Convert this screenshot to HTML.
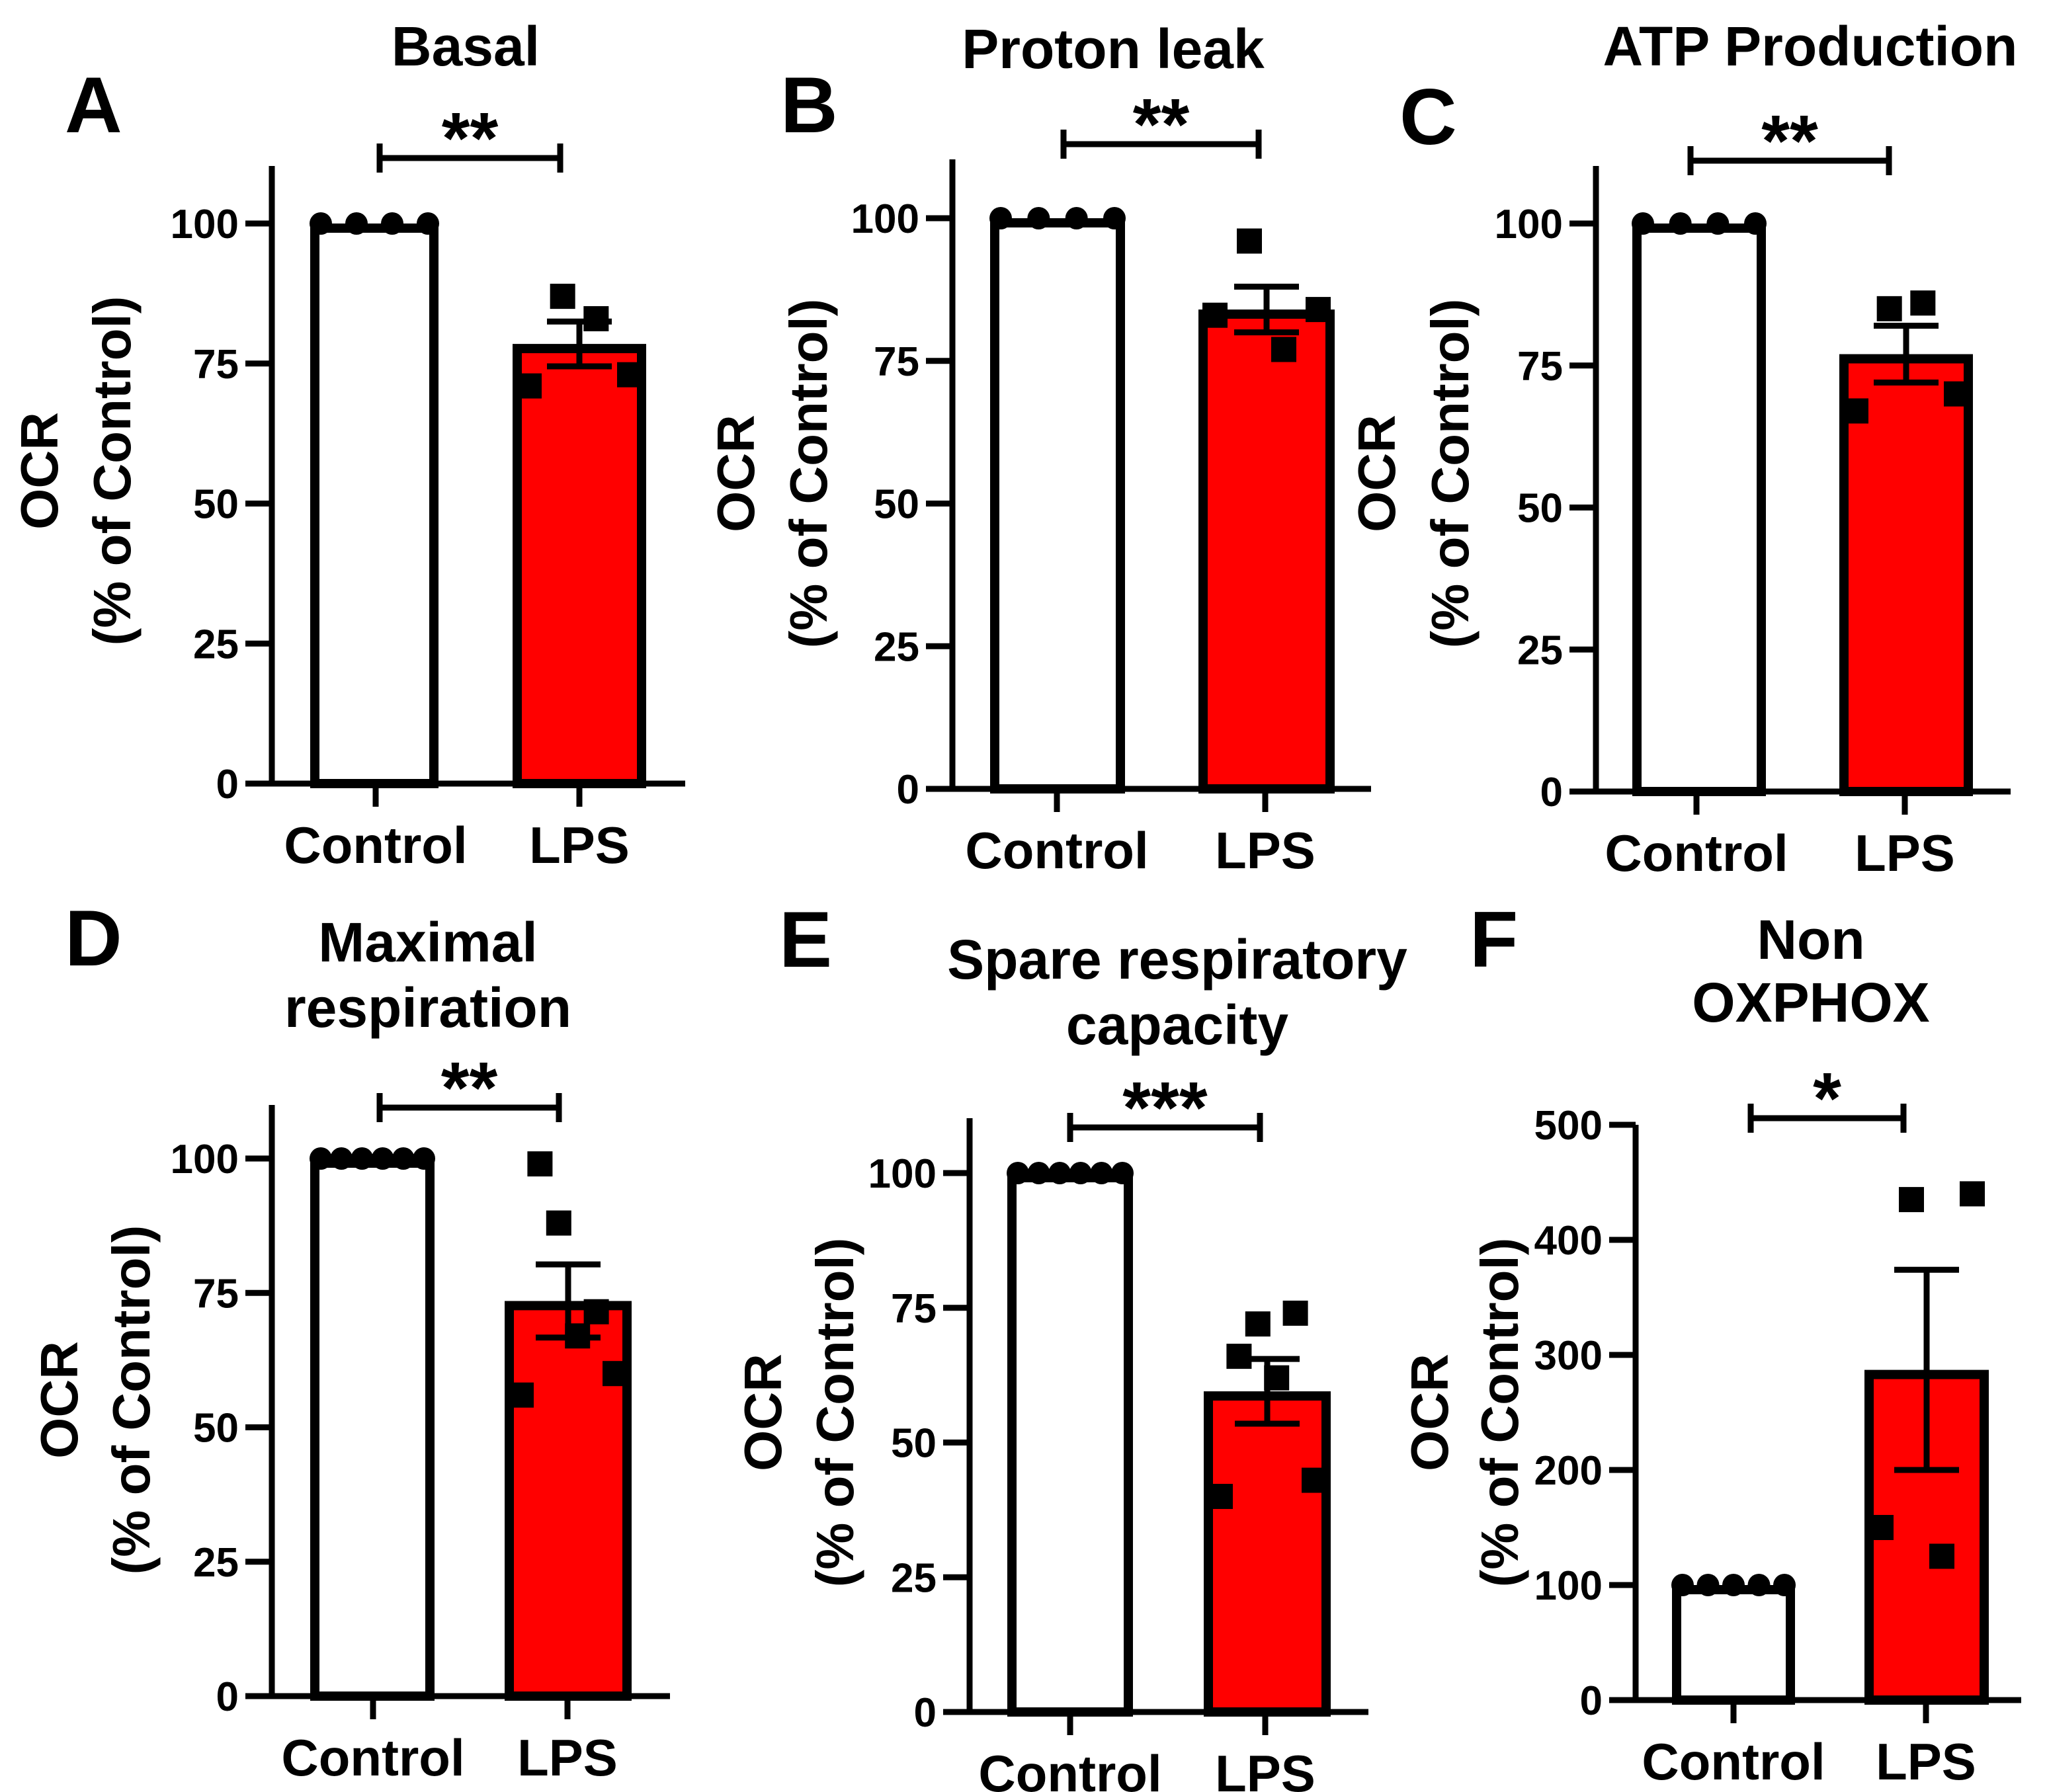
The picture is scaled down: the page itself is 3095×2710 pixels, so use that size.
<!DOCTYPE html>
<html><head><meta charset="utf-8"><style>
html,body{margin:0;padding:0;background:#fff;}
svg{display:block;font-family:"Liberation Sans",Arial,sans-serif;font-weight:bold;}
</style></head><body>
<svg id="fig" width="3095" height="2710" viewBox="0 0 3095 2710" xmlns="http://www.w3.org/2000/svg"></svg>
<script>
// ---- data ----
const categories = ["Control","LPS"];
const titlesA = ["Basal"], titlesB = ["Proton leak"], titlesC = ["ATP Production"];
const titlesD = ["Maximal","respiration"], titlesE = ["Spare respiratory","capacity"], titlesF = ["Non","OXPHOX"];
const ticks100 = [0,25,50,75,100];
const ticks500 = [0,100,200,300,400,500];
const ctrlA=[100,100,100,100], lpsA=[71,87,83,73], meanA=[100,78.5], semA=[0,4];
const ctrlB=[100,100,100,100], lpsB=[83,96,77,84], meanB=[100,84], semB=[0,4];
const ctrlC=[100,100,100,100], lpsC=[67,85,86,70], meanC=[100,77], semC=[0,5];
const ctrlD=[100,100,100,100,100,100], lpsD=[56,99,88,67,71.5,60], meanD=[100,73.5], semD=[0,6.8];
const ctrlE=[100,100,100,100,100,100], lpsE=[40,66,72,62,74,43], meanE=[100,59.5], semE=[0,6];
const ctrlF=[100,100,100,100,100], lpsF=[150,435,125,440], meanF=[100,287], semF=[0,87];
const starsList = ["**","**","**","**","***","*"];

const NS="http://www.w3.org/2000/svg";
const svg=document.getElementById('fig');
function mk(tag,attrs,parent){const e=document.createElementNS(NS,tag);for(const k in attrs)e.setAttribute(k,attrs[k]);(parent||svg).appendChild(e);return e;}

const panels=[
 {L:"A",lx:98,ly:200,titles:titlesA,tx:704,ty:[69],ax:411,y0:1185,yTop:338,vTop:100,axTop:251,xEnd:1036,b:[[469,663],[775,977]],tk:[568,876],br:[239,574,847],ctrl:ctrlA,lps:lpsA,mean:meanA,sem:semA,ticks:ticks100,lab:[-352,-242],lc:712},
 {L:"B",lx:1180,ly:200,titles:titlesB,tx:1683,ty:[73],ax:1440,y0:1193,yTop:330,vTop:100,axTop:241,xEnd:2073,b:[[1497,1701],[1812,2018]],tk:[1598,1913],br:[218,1608,1903],ctrl:ctrlB,lps:lpsB,mean:meanB,sem:semB,ticks:ticks100,lab:[-328,-218],lc:716},
 {L:"C",lx:2116,ly:218,titles:titlesC,tx:2737,ty:[69],ax:2413,y0:1197,yTop:338,vTop:100,axTop:251,xEnd:3040,b:[[2468,2670],[2781,2983]],tk:[2565,2880],br:[243,2556,2856],ctrl:ctrlC,lps:lpsC,mean:meanC,sem:semC,ticks:ticks100,lab:[-332,-221],lc:716},
 {L:"D",lx:98,ly:1460,titles:titlesD,tx:647,ty:[1424,1523],ax:411,y0:2565,yTop:1752,vTop:100,axTop:1671,xEnd:1013,b:[[469,657],[763,955]],tk:[564,858],br:[1675,574,845],ctrl:ctrlD,lps:lpsD,mean:meanD,sem:semD,ticks:ticks100,lab:[-322,-213],lc:2117},
 {L:"E",lx:1178,ly:1462,titles:titlesE,tx:1780,ty:[1450,1549],ax:1466,y0:2589,yTop:1774,vTop:100,axTop:1691,xEnd:2069,b:[[1523,1713],[1820,2012]],tk:[1618,1913],br:[1705,1618,1905],ctrl:ctrlE,lps:lpsE,mean:meanE,sem:semE,ticks:ticks100,lab:[-313,-204],lc:2136},
 {L:"F",lx:2222,ly:1462,titles:titlesF,tx:2738,ty:[1420,1515],ax:2473,y0:2571,yTop:1701,vTop:500,axTop:1701,xEnd:3056,b:[[2528,2714],[2819,3007]],tk:[2621,2912],br:[1691,2647,2878],ctrl:ctrlF,lps:lpsF,mean:meanF,sem:semF,ticks:ticks500,lab:[-312,-206],lc:2136}
];

panels.forEach((p,pi)=>{
  const g=mk('g',{});
  
  
  const y=v=>p.y0-(v/p.vTop)*(p.y0-p.yTop);
  const lt=mk('text',{x:p.lx,y:p.ly,'font-size':120},g);lt.textContent=p.L;
  
  p.titles.forEach((t,i)=>{const e=mk('text',{x:p.tx,y:p.ty[i]+30,'font-size':84,'text-anchor':'middle'},g);e.textContent=t;
    });
  const yl=mk('g',{transform:`translate(${p.ax+p.lab[0]},${p.lc}) rotate(-90)`},g);
  
  const t1=mk('text',{x:0,y:28,'font-size':80,'text-anchor':'middle'},yl);t1.textContent="OCR";
  const t2=mk('text',{x:0,y:28+(p.lab[1]-p.lab[0]),'font-size':80,'text-anchor':'middle'},yl);t2.textContent="(% of Control)";
  const fills=['#ffffff','#ff0000'];
  categories.forEach((c,i)=>{
    const [x1,x2]=p.b[i];const top=y(p.mean[i]);
    const r=mk('rect',{x:x1+7,y:top+7,width:x2-x1-14,height:p.y0-top-7,fill:fills[i],stroke:'#000','stroke-width':14},g);
    
  });
  const ya=mk('line',{x1:p.ax,y1:p.axTop,x2:p.ax,y2:p.y0+4,stroke:'#000','stroke-width':9},g);
  
  const xa=mk('line',{x1:p.ax-40,y1:p.y0,x2:p.xEnd,y2:p.y0,stroke:'#000','stroke-width':9},g);
  
  p.ticks.forEach(v=>{
    const tl=mk('line',{x1:p.ax-40,y1:y(v),x2:p.ax,y2:y(v),stroke:'#000','stroke-width':9},g);
    
    const tt=mk('text',{x:p.ax-50,y:y(v)+22,'font-size':62,'text-anchor':'end'},g);tt.textContent=v;
    
  });
  categories.forEach((c,i)=>{
    const tl=mk('line',{x1:p.tk[i],y1:p.y0,x2:p.tk[i],y2:p.y0+35,stroke:'#000','stroke-width':9},g);
    
    const tt=mk('text',{x:p.tk[i],y:p.y0+120,'font-size':78,'text-anchor':'middle'},g);tt.textContent=c;
    
  });
  const n=p.ctrl.length,[cx1,cx2]=p.b[0];
  p.ctrl.forEach((v,k)=>{
    const cx=cx1+16+(cx2-cx1-32)*k/(n-1);
    const c=mk('circle',{cx:cx,cy:y(v),r:17,fill:'#000'},g);
    
  });
  const m=p.lps.length,[lx1,lx2]=p.b[1];
  p.lps.forEach((v,k)=>{
    const cx=lx1+25+(lx2-lx1-50)*k/(m-1);
    const s=mk('rect',{x:cx-19,y:y(v)-19,width:38,height:38,fill:'#000'},g);
    
  });
  const ex=(lx1+lx2)/2;
  const eb=mk('g',{},g);
  mk('line',{x1:ex,y1:y(p.mean[1]+p.sem[1]),x2:ex,y2:y(p.mean[1]-p.sem[1]),stroke:'#000','stroke-width':9},eb);
  [p.mean[1]+p.sem[1],p.mean[1]-p.sem[1]].forEach(v=>mk('line',{x1:ex-49,y1:y(v),x2:ex+49,y2:y(v),stroke:'#000','stroke-width':9},eb));
  const [by,bx1,bx2]=p.br;
  const bg=mk('g',{},g);
  mk('line',{x1:bx1,y1:by,x2:bx2,y2:by,stroke:'#000','stroke-width':9},bg);
  mk('line',{x1:bx1,y1:by-22,x2:bx1,y2:by+22,stroke:'#000','stroke-width':9},bg);
  mk('line',{x1:bx2,y1:by-22,x2:bx2,y2:by+22,stroke:'#000','stroke-width':9},bg);
  const st=mk('text',{x:(bx1+bx2)/2,y:by+8,'font-size':110,'text-anchor':'middle'},g);st.textContent=starsList[pi];
  
});
</script>
</body></html>
